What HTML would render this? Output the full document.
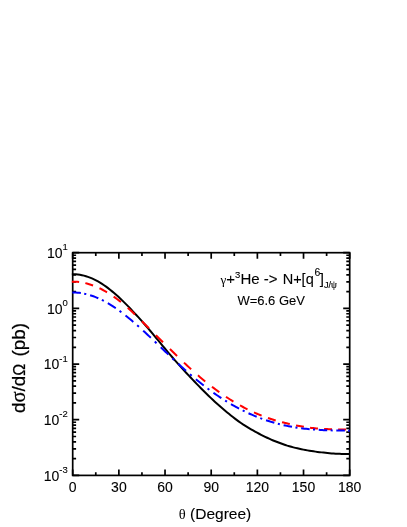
<!DOCTYPE html>
<html><head><meta charset="utf-8"><style>
html,body{margin:0;padding:0;background:#fff;}
svg{display:block;will-change:transform;font-family:"Liberation Sans",sans-serif;fill:#000;}
text{stroke:#000;stroke-width:0.1px;}
.n{stroke:none;}
.s{font-family:"Liberation Serif",serif;}
</style></head><body>
<svg width="407" height="527" viewBox="0 0 407 527">
<rect width="407" height="527" fill="#fff"/>
<rect x="72.7" y="252.7" width="277.0" height="222.7" fill="none" stroke="#000" stroke-width="1.7"/>
<path d="M72.70,475.4 v-6 M72.70,252.7 v6 M95.78,475.4 v-3.2 M95.78,252.7 v3.2 M118.87,475.4 v-6 M118.87,252.7 v6 M141.95,475.4 v-3.2 M141.95,252.7 v3.2 M165.03,475.4 v-6 M165.03,252.7 v6 M188.12,475.4 v-3.2 M188.12,252.7 v3.2 M211.20,475.4 v-6 M211.20,252.7 v6 M234.28,475.4 v-3.2 M234.28,252.7 v3.2 M257.37,475.4 v-6 M257.37,252.7 v6 M280.45,475.4 v-3.2 M280.45,252.7 v3.2 M303.53,475.4 v-6 M303.53,252.7 v6 M326.62,475.4 v-3.2 M326.62,252.7 v3.2 M349.70,475.4 v-6 M349.70,252.7 v6 M72.7,252.70 h6.5 M349.7,252.70 h-6.5 M72.7,291.62 h3.4 M349.7,291.62 h-3.4 M72.7,281.81 h3.4 M349.7,281.81 h-3.4 M72.7,274.86 h3.4 M349.7,274.86 h-3.4 M72.7,269.46 h3.4 M349.7,269.46 h-3.4 M72.7,265.05 h3.4 M349.7,265.05 h-3.4 M72.7,261.32 h3.4 M349.7,261.32 h-3.4 M72.7,258.10 h3.4 M349.7,258.10 h-3.4 M72.7,255.25 h3.4 M349.7,255.25 h-3.4 M72.7,308.38 h6.5 M349.7,308.38 h-6.5 M72.7,347.29 h3.4 M349.7,347.29 h-3.4 M72.7,337.49 h3.4 M349.7,337.49 h-3.4 M72.7,330.53 h3.4 M349.7,330.53 h-3.4 M72.7,325.13 h3.4 M349.7,325.13 h-3.4 M72.7,320.73 h3.4 M349.7,320.73 h-3.4 M72.7,317.00 h3.4 M349.7,317.00 h-3.4 M72.7,313.77 h3.4 M349.7,313.77 h-3.4 M72.7,310.92 h3.4 M349.7,310.92 h-3.4 M72.7,364.05 h6.5 M349.7,364.05 h-6.5 M72.7,402.97 h3.4 M349.7,402.97 h-3.4 M72.7,393.16 h3.4 M349.7,393.16 h-3.4 M72.7,386.21 h3.4 M349.7,386.21 h-3.4 M72.7,380.81 h3.4 M349.7,380.81 h-3.4 M72.7,376.40 h3.4 M349.7,376.40 h-3.4 M72.7,372.67 h3.4 M349.7,372.67 h-3.4 M72.7,369.45 h3.4 M349.7,369.45 h-3.4 M72.7,366.60 h3.4 M349.7,366.60 h-3.4 M72.7,419.72 h6.5 M349.7,419.72 h-6.5 M72.7,458.64 h3.4 M349.7,458.64 h-3.4 M72.7,448.84 h3.4 M349.7,448.84 h-3.4 M72.7,441.88 h3.4 M349.7,441.88 h-3.4 M72.7,436.48 h3.4 M349.7,436.48 h-3.4 M72.7,432.08 h3.4 M349.7,432.08 h-3.4 M72.7,428.35 h3.4 M349.7,428.35 h-3.4 M72.7,425.12 h3.4 M349.7,425.12 h-3.4 M72.7,422.27 h3.4 M349.7,422.27 h-3.4 M72.7,475.40 h6.5 M349.7,475.40 h-6.5" stroke="#000" stroke-width="1.7" fill="none"/>
<path d="M71.85,274.22 L73.86,274.22 L75.88,274.32 L77.89,274.52 L79.90,274.80 L81.92,275.18 L83.93,275.65 L85.94,276.21 L87.96,276.86 L89.97,277.60 L91.98,278.43 L94.00,279.35 L96.01,280.36 L98.02,281.45 L100.04,282.63 L102.05,283.89 L104.06,285.23 L106.08,286.65 L108.09,288.14 L110.10,289.71 L112.12,291.35 L114.13,293.04 L116.14,294.79 L118.16,296.60 L120.17,298.46 L122.19,300.37 L124.20,302.34 L126.21,304.35 L128.23,306.41 L130.24,308.52 L132.25,310.66 L134.27,312.81 L136.28,314.99 L138.29,317.20 L140.31,319.43 L142.32,321.68 L144.33,323.97 L146.35,326.28 L148.36,328.63 L150.37,331.01 L152.39,333.42 L154.40,335.84 L156.41,338.27 L158.43,340.70 L160.44,343.14 L162.45,345.57 L164.47,347.99 L166.48,350.40 L168.49,352.79 L170.51,355.16 L172.52,357.51 L174.53,359.83 L176.55,362.13 L178.56,364.40 L180.57,366.65 L182.59,368.88 L184.60,371.09 L186.61,373.27 L188.63,375.43 L190.64,377.56 L192.65,379.68 L194.67,381.77 L196.68,383.84 L198.69,385.90 L200.71,387.94 L202.72,389.97 L204.73,391.97 L206.75,393.96 L208.76,395.92 L210.77,397.86 L212.79,399.77 L214.80,401.65 L216.82,403.49 L218.83,405.30 L220.84,407.07 L222.86,408.80 L224.87,410.51 L226.88,412.19 L228.90,413.84 L230.91,415.45 L232.92,417.04 L234.94,418.59 L236.95,420.11 L238.96,421.60 L240.98,423.04 L242.99,424.41 L245.00,425.70 L247.02,426.94 L249.03,428.14 L251.04,429.32 L253.06,430.48 L255.07,431.61 L257.08,432.69 L259.10,433.74 L261.11,434.77 L263.12,435.78 L265.14,436.78 L267.15,437.76 L269.16,438.70 L271.18,439.60 L273.19,440.46 L275.20,441.27 L277.22,442.05 L279.23,442.81 L281.24,443.56 L283.26,444.28 L285.27,444.98 L287.28,445.64 L289.30,446.25 L291.31,446.82 L293.32,447.36 L295.34,447.86 L297.35,448.34 L299.36,448.79 L301.38,449.22 L303.39,449.63 L305.41,450.01 L307.42,450.37 L309.43,450.71 L311.45,451.03 L313.46,451.34 L315.47,451.62 L317.49,451.89 L319.50,452.14 L321.51,452.38 L323.53,452.60 L325.54,452.82 L327.55,453.02 L329.57,453.21 L331.58,453.38 L333.59,453.53 L335.61,453.66 L337.62,453.77 L339.63,453.85 L341.65,453.91 L343.66,453.95 L345.67,453.98 L347.69,454.00 L349.70,454.01" fill="none" stroke="#000" stroke-width="2"/>
<path d="M71.85,281.67 L73.67,281.68 L75.49,281.74 L77.31,281.86 L79.13,282.05 M85.34,283.15 L86.88,283.53 L88.43,283.96 L89.97,284.43 L91.52,284.94 L93.06,285.49 M99.49,288.23 L101.00,288.97 L102.50,289.75 L104.00,290.57 L105.50,291.42 L107.01,292.30 M113.64,296.60 L115.47,297.90 L117.30,299.24 L119.13,300.63 L120.96,302.06 M127.77,307.79 L129.56,309.40 L131.35,311.04 L133.14,312.71 L134.93,314.41 M141.85,321.17 L143.63,322.94 L145.40,324.72 L147.17,326.50 L148.95,328.28 M155.90,335.23 L157.67,337.00 L159.45,338.76 L161.23,340.52 L163.00,342.27 M169.94,349.07 L171.72,350.81 L173.50,352.54 L175.28,354.27 L177.06,355.99 M183.97,362.62 L185.76,364.31 L187.55,365.98 L189.34,367.64 L191.13,369.27 M197.98,375.34 L199.79,376.89 L201.60,378.42 L203.41,379.93 L205.22,381.42 M211.98,386.78 L213.82,388.17 L215.65,389.54 L217.48,390.89 L219.32,392.21 M225.99,396.81 L227.84,398.03 L229.70,399.22 L231.56,400.39 L233.41,401.53 M239.99,405.36 L241.49,406.19 L243.00,407.00 L244.50,407.80 L246.01,408.58 L247.51,409.34 M253.99,412.41 L255.51,413.09 L257.04,413.74 L258.56,414.39 L260.09,415.01 L261.61,415.62 M267.99,417.97 L269.54,418.50 L271.08,419.01 L272.62,419.50 L274.16,419.97 L275.71,420.43 M282.01,422.16 L283.57,422.55 L285.12,422.94 L286.68,423.33 L288.23,423.70 L289.79,424.06 M296.03,425.41 L297.60,425.72 L299.17,426.02 L300.73,426.31 L302.30,426.58 L303.87,426.84 M310.04,427.73 L311.63,427.92 L313.21,428.09 L314.79,428.25 L316.37,428.39 L317.96,428.52 M324.07,428.94 L325.66,429.03 L327.25,429.11 L328.85,429.18 L330.44,429.24 L332.03,429.29 M338.10,429.42 L339.70,429.43 L341.30,429.43 L342.90,429.43 L344.50,429.42 L346.10,429.40" fill="none" stroke="#ff0000" stroke-width="2"/>
<path d="M72.34,292.48 L74.04,292.49 L75.75,292.56 L77.45,292.68 L79.16,292.85 L80.86,293.07 M84.21,293.67 L86.29,294.13 M90.09,295.18 L91.73,295.71 L93.38,296.28 L95.02,296.90 L96.67,297.56 L98.31,298.27 M101.88,299.95 L103.82,300.95 M107.82,303.17 L109.41,304.12 L111.00,305.10 L112.60,306.12 L114.19,307.16 L115.78,308.24 M119.53,310.90 L121.37,312.27 M125.51,315.47 L127.07,316.71 L128.62,317.98 L130.18,319.27 L131.73,320.57 L133.29,321.90 M137.17,325.28 L138.93,326.86 M143.17,330.69 L144.70,332.10 L146.23,333.52 L147.77,334.95 L149.30,336.39 L150.83,337.83 M154.79,341.58 L156.51,343.22 M160.78,347.29 L162.31,348.75 L163.84,350.21 L165.36,351.66 L166.89,353.11 L168.42,354.56 M172.39,358.30 L174.11,359.91 M178.35,363.83 L179.89,365.24 L181.43,366.64 L182.97,368.03 L184.51,369.41 L186.05,370.77 M189.98,374.20 L191.72,375.70 M195.90,379.21 L197.46,380.50 L199.02,381.76 L200.58,383.02 L202.14,384.26 L203.70,385.48 M207.56,388.43 L209.34,389.76 M213.44,392.73 L215.02,393.85 L216.61,394.95 L218.19,396.03 L219.78,397.09 L221.36,398.13 M225.14,400.55 L226.96,401.68 M230.98,404.09 L232.59,405.02 L234.20,405.93 L235.80,406.82 L237.41,407.70 L239.02,408.55 M242.71,410.45 L244.59,411.38 M248.52,413.23 L250.15,413.97 L251.78,414.70 L253.42,415.40 L255.05,416.09 L256.68,416.75 M260.29,418.16 L262.21,418.87 M266.06,420.23 L267.71,420.78 L269.37,421.31 L271.03,421.83 L272.69,422.33 L274.34,422.81 M277.86,423.76 L279.84,424.27 M283.60,425.16 L285.28,425.53 L286.96,425.89 L288.64,426.22 L290.32,426.55 L292.00,426.85 M295.44,427.43 L297.46,427.74 M301.15,428.25 L302.85,428.46 L304.55,428.66 L306.25,428.84 L307.95,429.02 L309.65,429.18 M313.02,429.47 L315.08,429.62 M318.72,429.86 L320.43,429.96 L322.14,430.04 L323.86,430.13 L325.57,430.20 L327.28,430.26 M330.61,430.37 L332.69,430.43 M336.31,430.51 L338.02,430.54 L339.74,430.56 L341.46,430.58 L343.18,430.60 L344.89,430.61 M348.20,430.63 L349.70,430.63" fill="none" stroke="#0000ff" stroke-width="2"/>
<text x="72.7" y="492.3" text-anchor="middle" font-size="14">0</text>
<text x="118.9" y="492.3" text-anchor="middle" font-size="14">30</text>
<text x="165.0" y="492.3" text-anchor="middle" font-size="14">60</text>
<text x="211.2" y="492.3" text-anchor="middle" font-size="14">90</text>
<text x="257.4" y="492.3" text-anchor="middle" font-size="14">120</text>
<text x="303.5" y="492.3" text-anchor="middle" font-size="14">150</text>
<text x="349.7" y="492.3" text-anchor="middle" font-size="14">180</text>

<text x="67.8" y="257.9" text-anchor="end" font-size="14">10<tspan dy="-7.6" font-size="9.5">1</tspan></text>
<text x="67.8" y="313.6" text-anchor="end" font-size="14">10<tspan dy="-7.6" font-size="9.5">0</tspan></text>
<text x="67.8" y="369.2" text-anchor="end" font-size="14">10<tspan dy="-7.6" font-size="9.5">-1</tspan></text>
<text x="67.8" y="424.9" text-anchor="end" font-size="14">10<tspan dy="-7.6" font-size="9.5">-2</tspan></text>
<text x="67.8" y="480.6" text-anchor="end" font-size="14">10<tspan dy="-7.6" font-size="9.5">-3</tspan></text>

<text x="215" y="519.4" text-anchor="middle" font-size="15.5"><tspan class="s n" font-size="14.5">θ</tspan> (Degree)</text>
<text transform="translate(25.4,368) rotate(-90)" text-anchor="middle" font-size="18.8" style="stroke-width:0.25px">d<tspan class="s" font-size="20.5">σ</tspan>/d<tspan font-size="16">Ω</tspan><tspan dx="2.2"> (pb)</tspan></text>
<text x="220.6" y="283.7" font-size="15"><tspan class="s n" font-size="13">γ</tspan>+<tspan dy="-5.8" font-size="9.5">3</tspan><tspan dy="5.8">He -&gt; </tspan><tspan dx="1" font-size="14.5">N+[q</tspan><tspan dx="0.8" dy="-7.9" font-size="10.4">6</tspan><tspan dx="-0.6" dy="7.9">]</tspan><tspan dy="4.5" font-size="9.3" stroke-width="0.15">J/<tspan class="s">ψ</tspan></tspan></text>
<text x="237.4" y="304.9" font-size="13">W=6.6 GeV</text>
</svg>
</body></html>
